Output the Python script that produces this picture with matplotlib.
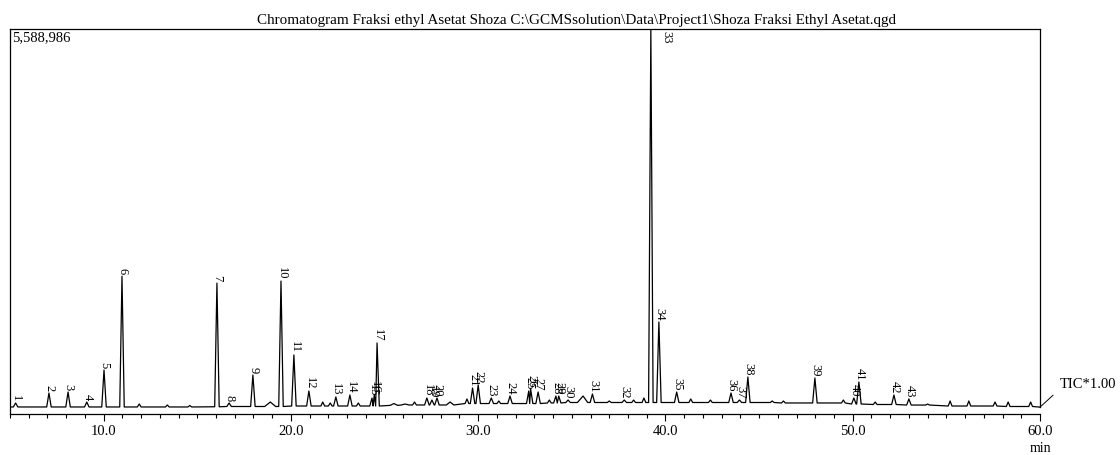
import matplotlib.pyplot as plt
import numpy as np

plt.rcParams['font.family'] = ['Liberation Serif', 'DejaVu Serif']

title = ("Chromatogram Fraksi ethyl Asetat Shoza "
         "C:\\GCMSsolution\\Data\\Project1\\Shoza Fraksi Ethyl Asetat.qgd")
y_max = 5588986

# labelled peaks: number, retention time (min), apex and foot intensity (counts)
peak_no = list(range(1, 44))
peak_rt = [5.30, 7.08, 8.10, 9.10, 10.02, 10.98, 16.05, 16.70, 17.97, 19.47,
           20.16, 20.96, 22.40, 23.15, 24.33, 24.45, 24.60, 27.26, 27.53, 27.80,
           29.70, 30.00, 30.70, 31.70, 32.70, 32.80, 33.20, 34.15, 34.30, 34.80,
           36.10, 37.80, 39.22, 39.65, 40.60, 43.50, 43.95, 44.40, 47.98, 50.06,
           50.33, 52.20, 53.00]
peak_top = [160e3, 305e3, 319e3, 174e3, 639e3, 2000e3, 1900e3, 160e3, 566e3, 1930e3,
            857e3, 334e3, 247e3, 276e3, 232e3, 276e3, 1031e3, 232e3, 203e3, 232e3,
            377e3, 421e3, 232e3, 261e3, 334e3, 363e3, 319e3, 261e3, 261e3, 203e3,
            290e3, 203e3, 5588986, 1336e3, 319e3, 305e3, 203e3, 537e3, 523e3, 232e3,
            465e3, 276e3, 218e3]
peak_base = [102e3, 102e3, 102e3, 102e3, 102e3, 102e3, 105e3, 109e3, 109e3, 109e3,
             116e3, 116e3, 116e3, 116e3, 116e3, 120e3, 116e3, 131e3, 131e3, 131e3,
             152e3, 152e3, 152e3, 152e3, 152e3, 152e3, 152e3, 160e3, 160e3, 167e3,
             167e3, 167e3, 167e3, 167e3, 167e3, 167e3, 167e3, 167e3, 160e3, 145e3,
             145e3, 138e3, 130e3]

# small unlabelled bumps on the baseline
bump_rt = [11.9, 13.4, 14.6, 18.9, 21.7, 22.1, 23.6, 25.5, 26.1, 26.6,
           28.5, 29.4, 31.1, 33.8, 35.6, 37.0, 38.3, 38.85, 41.35, 42.4,
           45.7, 46.3, 49.5, 51.2, 54.0, 55.2, 56.2, 57.6, 58.3, 59.5]
bump_top = [145e3, 131e3, 123e3, 174e3, 174e3, 160e3, 160e3, 152e3, 145e3, 174e3,
            174e3, 218e3, 189e3, 203e3, 261e3, 189e3, 203e3, 232e3, 218e3, 203e3,
            189e3, 189e3, 203e3, 174e3, 145e3, 189e3, 189e3, 174e3, 174e3, 174e3]
bump_base = [102e3, 102e3, 102e3, 109e3, 116e3, 116e3, 116e3, 125e3, 131e3, 131e3,
             131e3, 152e3, 152e3, 160e3, 167e3, 167e3, 167e3, 167e3, 167e3, 167e3,
             167e3, 160e3, 160e3, 138e3, 130e3, 116e3, 116e3, 116e3, 109e3, 109e3]
bump_halfwidth = [0.1, 0.1, 0.1, 0.3, 0.1, 0.1, 0.1, 0.2, 0.2, 0.1,
                  0.2, 0.1, 0.1, 0.1, 0.3, 0.1, 0.1, 0.1, 0.1, 0.1,
                  0.1, 0.1, 0.1, 0.1, 0.1, 0.1, 0.1, 0.1, 0.1, 0.1]

start_tic = 102e3
end_tic = 100e3

# build the trace: each peak as foot - apex - foot, kept in time order
rt = np.array(peak_rt + bump_rt)
top = np.array(peak_top + bump_top)
base = np.array(peak_base + bump_base)
hw = np.array([0.12] * len(peak_rt) + bump_halfwidth)
order = np.argsort(rt)
rt, top, base, hw = rt[order], top[order], base[order], hw[order]

xs, ys = [5.0], [start_tic]
for i in range(len(rt)):
    left = rt[i] - hw[i]
    right = rt[i] + hw[i]
    if i > 0:
        left = max(left, (rt[i - 1] + rt[i]) / 2)
    if i < len(rt) - 1:
        right = min(right, (rt[i] + rt[i + 1]) / 2)
    xs += [left, rt[i], right]
    ys += [base[i], top[i], base[i]]
xs.append(60.0)
ys.append(end_tic)

fig = plt.figure(figsize=(11.2, 4.55), dpi=100)
ax = fig.add_axes([10 / 1120, 41 / 455, 1030 / 1120, 385 / 455])
ax.plot(xs, ys, color='black', lw=0.9)
ax.set_xlim(5, 60)
ax.set_ylim(0, y_max)

ax.spines['right'].set_visible(False)
for s in ['left', 'top', 'bottom']:
    ax.spines[s].set_linewidth(0.9)
ax.plot([60, 60], [end_tic, y_max], color='black', lw=0.9, clip_on=False)

ax.set_yticks([])
ax.set_xticks(np.arange(10, 61, 10))
ax.set_xticklabels(['%.1f' % v for v in np.arange(10, 61, 10)], fontsize=10.5)
ax.set_xticks(np.arange(5, 61, 1), minor=True)
ax.tick_params(axis='x', which='major', direction='out', length=5, width=0.8, pad=3)
ax.tick_params(axis='x', which='minor', direction='out', length=3, width=0.8)

# peak numbers
for n, t, h in zip(peak_no, peak_rt, peak_top):
    if h >= y_max:
        ax.text(t + 0.85, y_max * 0.995, str(n), rotation=270, fontsize=9,
                ha='center', va='top')
    else:
        ax.text(t + 0.03, h + 25e3, str(n), rotation=270, fontsize=9,
                ha='center', va='bottom')

fig.text(577 / 1120, 1 - 24 / 455, title, ha='center', va='baseline', fontsize=10.9)
fig.text(12 / 1120, 1 - 31 / 455, '{:,}'.format(y_max), ha='left', va='top', fontsize=10.5)
fig.text(1040 / 1120, 1 - 452 / 455, 'min', ha='center', va='baseline', fontsize=10)
ax.annotate('TIC*1.00', xy=(60, end_tic), xytext=(1060 / 1120, 1 - 385 / 455),
            textcoords='figure fraction', ha='left', va='center', fontsize=10.5,
            annotation_clip=False,
            arrowprops=dict(arrowstyle='-', lw=0.7, color='black',
                            relpos=(0, 0.2), shrinkA=4, shrinkB=0))

fig.savefig('out.png', dpi=100)
